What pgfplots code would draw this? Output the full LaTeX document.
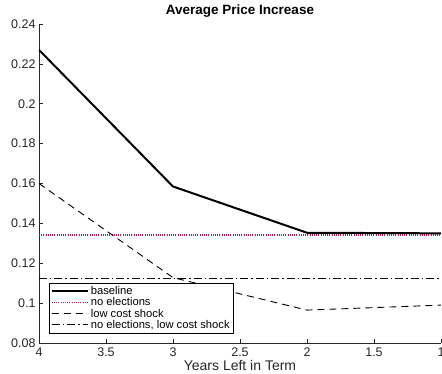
\documentclass[border=0pt]{standalone}
\usepackage{pgfplots}
\pgfplotsset{compat=1.18}
\usepackage{fontspec}
\setmainfont{Liberation Sans}
\definecolor{axgray}{rgb}{0.15,0.15,0.15}
\definecolor{noel}{RGB}{175,25,70}
\begin{document}
\begin{tikzpicture}
\begin{axis}[
  scale only axis,
  width=402pt, height=319pt,
  xmin=1, xmax=4, ymin=0.08, ymax=0.24,
  x dir=reverse,
  axis lines*=left,
  axis line style={axgray, line width=0.6pt},
  xtick={1,1.5,2,2.5,3,3.5,4},
  ytick={0.08,0.1,0.12,0.14,0.16,0.18,0.2,0.22,0.24},
  yticklabels={0.08,0.1,0.12,0.14,0.16,0.18,0.2,0.22,0.24},
  xticklabels={1,1.5,2,2.5,3,3.5,4},
  tick align=inside,
  major tick length=4pt,
  tick style={axgray, line width=0.6pt},
  ticklabel style={font=\fontsize{12.5}{14}\selectfont, text=axgray},
  xticklabel style={yshift=-1pt},
  xlabel={Years Left in Term},
  xlabel style={font=\fontsize{14}{16}\selectfont, text=axgray, at={(rel axis cs:0.5,0)}, anchor=north, yshift=-14pt},
  title={\textbf{Average Price Increase}},
  title style={font=\fontsize{13.5}{16}\selectfont, yshift=-3pt},
  legend style={at={(rel axis cs:0.025,0.03)}, anchor=south west, draw=black, line width=0.6pt,
    font=\fontsize{11.2}{12}\selectfont, inner sep=1.5pt, row sep=-2.5pt, cells={anchor=west}},
  legend cell align=left,
  legend image code/.code={\draw[#1] (0pt,0pt) -- (36pt,0pt);},
]
\addplot[black, line width=2pt] coordinates {(4,0.227) (3,0.1585) (2,0.1353) (1,0.1350)};
\addlegendentry{baseline}
\addplot[noel, line width=1.6pt, dash pattern=on 0.9pt off 1.3pt] coordinates {(4,0.1342) (1,0.1342)};
\addlegendentry{no elections}
\addplot[black, line width=0.9pt, dash pattern=on 7pt off 5pt] coordinates {(4,0.160) (3,0.1128) (2,0.0965) (1,0.0990)};
\addlegendentry{low cost shock}
\addplot[black, line width=0.9pt, dash pattern=on 8pt off 3pt on 1.5pt off 3pt] coordinates {(4,0.1125) (1,0.1125)};
\addlegendentry{no elections, low cost shock}
\coordinate (ll) at (rel axis cs:0,0);
\coordinate (ur) at (rel axis cs:1,1);
\end{axis}
\pgfresetboundingbox
\path ([xshift=-39pt,yshift=-30pt]ll) rectangle ([xshift=1pt,yshift=24pt]ur);
\end{tikzpicture}
\end{document}
